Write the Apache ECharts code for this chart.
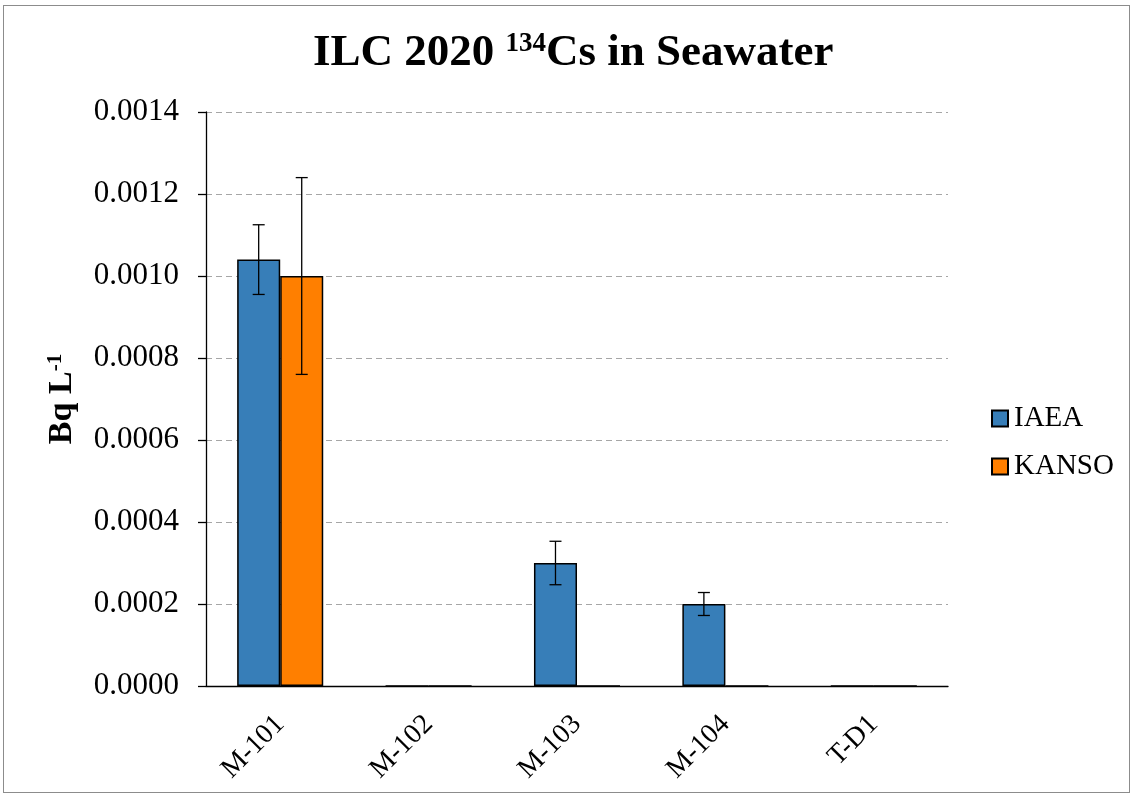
<!DOCTYPE html>
<html>
<head>
<meta charset="utf-8">
<script src="https://cdn.jsdelivr.net/npm/echarts@6/dist/echarts.min.js"></script>
<style>
  html, body { margin: 0; padding: 0; background: #fff; }
  #frame { position: absolute; left: 3px; top: 5px; width: 1127px; height: 788px; border: 1px solid #8c8c8c; box-sizing: border-box; }
  #chart { position: absolute; left: 0; top: 0; width: 1134px; height: 796px; }
</style>
</head>
<body>
<div id="frame"></div>
<div id="chart"></div>
<script>
// Sample codes on the category axis
const categories = ['M-101', 'M-102', 'M-103', 'M-104', 'T-D1'];
// Activity concentrations (Bq/L)
const iaeaValues = [0.00104, 0, 0.0003, 0.0002, 0];
const kansoValues = [0.0010, 0, 0, 0, 0];
// Uncertainties (Bq/L), null where no error bar is drawn
const iaeaUnc = [0.000085, null, 0.000053, 0.000028, null];
const kansoUnc = [0.00024, null, null, null, null];
// Y axis ticks
const yTicks = { min: 0, max: 0.0014, step: 0.0002 };

const FONT = 'Liberation Serif';
const GAP = 0.42;

function errData(vals, unc) {
  const out = [];
  vals.forEach((v, i) => {
    if (unc[i] != null) out.push([i, v - unc[i], v + unc[i]]);
  });
  return out;
}

function errRender(side) {
  return function (params, api) {
    const xi = api.value(0);
    const lo = api.coord([xi, api.value(1)]);
    const hi = api.coord([xi, api.value(2)]);
    const band = api.size([1, 0])[0];
    const bw = band * (1 - GAP) / 2;
    const x = lo[0] + side * bw / 2;
    const cap = 6;
    const style = { stroke: '#000', lineWidth: 1.3 };
    return {
      type: 'group',
      children: [
        { type: 'line', shape: { x1: x, y1: lo[1], x2: x, y2: hi[1] }, style },
        { type: 'line', shape: { x1: x - cap, y1: lo[1], x2: x + cap, y2: lo[1] }, style },
        { type: 'line', shape: { x1: x - cap, y1: hi[1], x2: x + cap, y2: hi[1] }, style }
      ]
    };
  };
}

const chart = echarts.init(document.getElementById('chart'), null, { renderer: 'canvas' });
chart.setOption({
  animation: false,
  title: {
    text: '{a|ILC 2020 }{s|134}{a|Cs in Seawater}',
    left: 308,
    top: 26,
    textStyle: {
      rich: {
        a: { fontFamily: FONT, fontWeight: 'bold', fontSize: 45, color: '#000' },
        s: { fontFamily: FONT, fontWeight: 'bold', fontSize: 27, color: '#000', verticalAlign: 'top', padding: [0, 0, 18, 0] }
      }
    }
  },
  legend: {
    orient: 'vertical',
    left: 991,
    top: 404,
    padding: 0,
    icon: 'rect',
    itemWidth: 16,
    itemHeight: 16,
    itemGap: 19,
    textStyle: { fontFamily: FONT, fontSize: 29, color: '#000', padding: [0, 0, 0, 1] },
    data: ['IAEA', 'KANSO']
  },
  grid: { left: 206, right: 186, top: 112, bottom: 110 },
  xAxis: {
    type: 'category',
    data: categories,
    axisLine: { lineStyle: { color: '#000', width: 1.3 } },
    axisTick: { length: 10, lineStyle: { color: '#000', width: 1.3 } },
    axisLabel: { rotate: 45, margin: 34, fontFamily: FONT, fontSize: 28, color: '#000' }
  },
  yAxis: {
    type: 'value',
    min: yTicks.min,
    max: yTicks.max,
    interval: yTicks.step,
    name: '{a|Bq L}{s|-1}',
    nameLocation: 'middle',
    nameGap: 126,
    nameRotate: 90,
    nameTextStyle: {
      rich: {
        a: { fontFamily: FONT, fontWeight: 'bold', fontSize: 34, color: '#000' },
        s: { fontFamily: FONT, fontWeight: 'bold', fontSize: 21, color: '#000', verticalAlign: 'top', padding: [0, 0, 14, 0] }
      }
    },
    axisLine: { show: true, lineStyle: { color: '#000', width: 1.3 } },
    axisTick: { show: true, length: 8, lineStyle: { color: '#000', width: 1.3 } },
    axisLabel: { margin: 27, fontFamily: FONT, fontSize: 31, color: '#000', formatter: v => v.toFixed(4) },
    splitLine: { lineStyle: { color: '#a6a6a6', type: [6, 4], width: 1.2 } }
  },
  series: [
    {
      name: 'IAEA', type: 'bar', data: iaeaValues, barGap: '0%', barCategoryGap: (GAP * 100) + '%',
      itemStyle: { color: '#377EB8', borderColor: '#000', borderWidth: 1.5 }
    },
    {
      name: 'KANSO', type: 'bar', data: kansoValues, barGap: '0%', barCategoryGap: (GAP * 100) + '%',
      itemStyle: { color: '#FF7F00', borderColor: '#000', borderWidth: 1.5 }
    },
    { type: 'custom', renderItem: errRender(-1), data: errData(iaeaValues, iaeaUnc), encode: { x: 0, y: [1, 2] }, z: 5 },
    { type: 'custom', renderItem: errRender(1), data: errData(kansoValues, kansoUnc), encode: { x: 0, y: [1, 2] }, z: 5 }
  ]
});
</script>
</body>
</html>
